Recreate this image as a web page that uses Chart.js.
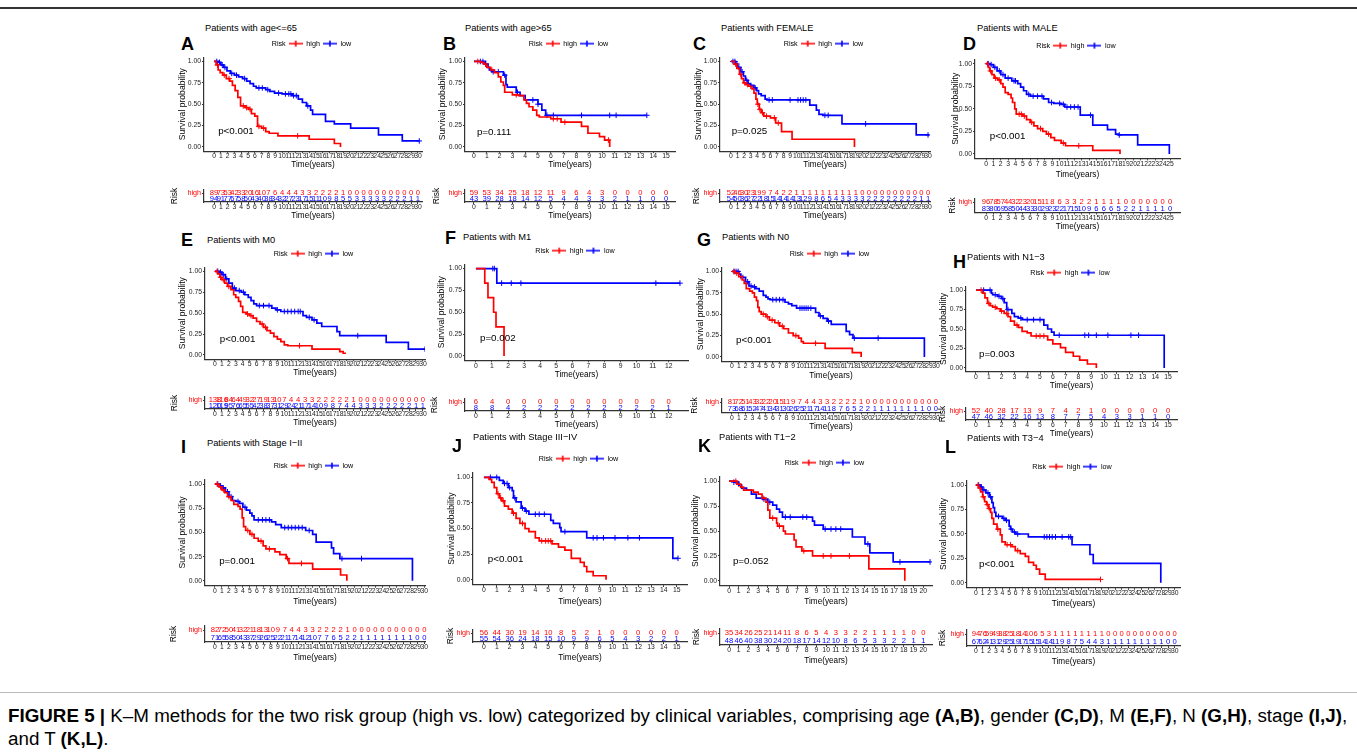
<!DOCTYPE html>
<html>
<head>
<meta charset="utf-8">
<script src="https://cdn.jsdelivr.net/npm/chart.js@4.4.1/dist/chart.umd.min.js"></script>
<style>
  body { margin: 0; background: #fff; font-family: 'Liberation Sans', Arial, sans-serif; }
  #fig { position: relative; width: 1357px; height: 754px; overflow: hidden; }
  #fig canvas { position: absolute; }
  .letter { position: absolute; font-weight: bold; font-size: 18px; line-height: 18px; color: #000; }
  .ptitle { position: absolute; font-size: 9.3px; line-height: 10px; white-space: nowrap; color: #000; }
  #topline { position: absolute; left: 0; top: 7px; width: 1357px; height: 2px; background: #333; }
  #capline { position: absolute; left: 0; top: 692px; width: 1357px; height: 1px; background: #bbb; }
  #caption { position: absolute; left: 8px; top: 704px; width: 1347px; font-size: 18.8px; line-height: 23px; color: #000; }
</style>
</head>
<body>
<div id="fig">
  <div id="topline"></div>
  <div id="capline"></div>
  <div id="caption"><b>FIGURE 5 |</b> K–M methods for the two risk group (high vs. low) categorized by clinical variables, comprising age <b>(A,B)</b>, gender <b>(C,D)</b>, M <b>(E,F)</b>, N <b>(G,H)</b>, stage <b>(I,J)</b>, and T <b>(K,L)</b>.</div>
</div>
<script>
// tick values for the time axes
const ticks30 = [0,1,2,3,4,5,6,7,8,9,10,11,12,13,14,15,16,17,18,19,20,21,22,23,24,25,26,27,28,29,30];
const ticks25 = [0,1,2,3,4,5,6,7,8,9,10,11,12,13,14,15,16,17,18,19,20,21,22,23,24,25];
const ticks20 = [0,1,2,3,4,5,6,7,8,9,10,11,12,13,14,15,16,17,18,19,20];
const ticks15 = [0,1,2,3,4,5,6,7,8,9,10,11,12,13,14,15];
const ticks12 = [0,1,2,3,4,5,6,7,8,9,10,11,12];
const survTicks = [0, 0.25, 0.5, 0.75, 1];

// KM curves: [time, survival] at each step
const kmA_high = [[0,1],[0.3,0.96],[0.6,0.90],[0.9,0.87],[1.3,0.84],[1.8,0.80],[2.3,0.77],[2.7,0.72],[3.1,0.66],[3.5,0.58],[3.9,0.48],[4.6,0.46],[5.1,0.44],[5.5,0.39],[6.0,0.36],[6.4,0.24],[7.0,0.22],[7.6,0.18],[8.1,0.16],[9.4,0.13],[14.0,0.09],[17.7,0.04],[18.6,0]];
const kmA_low = [[0,1],[0.6,0.99],[1.0,0.96],[1.4,0.93],[1.9,0.89],[2.4,0.86],[3.0,0.84],[3.6,0.82],[4.2,0.80],[4.8,0.77],[5.3,0.74],[5.8,0.71],[6.2,0.69],[7.6,0.67],[8.2,0.65],[8.9,0.63],[10.0,0.62],[11.5,0.60],[12.4,0.56],[13.0,0.52],[13.6,0.48],[14.2,0.43],[14.5,0.38],[16.4,0.30],[17.7,0.27],[20.1,0.22],[24.2,0.14],[27.7,0.07],[30.2,0.07]];
const censA_high = [0.5,1.5,2.2,4.3,4.8,5.3,6.6,7.3,12.3];
const censA_low = [0.4,0.8,1.2,1.6,2.6,3.3,4.5,6.6,7.1,7.9,9.5,10.5,11.0,11.3,11.7,12.1,13.8,30.2];

const kmB_high = [[0,1],[0.5,0.99],[0.8,0.97],[1.0,0.93],[1.3,0.90],[1.6,0.87],[1.9,0.82],[2.1,0.76],[2.3,0.72],[2.4,0.64],[3.0,0.61],[3.5,0.60],[3.9,0.55],[4.1,0.51],[4.3,0.47],[4.6,0.43],[4.9,0.37],[5.1,0.35],[6.0,0.33],[6.8,0.29],[8.4,0.24],[8.9,0.16],[9.8,0.12],[10.2,0.08],[10.6,0]];
const kmB_low = [[0,1],[0.9,0.97],[1.1,0.93],[1.2,0.90],[1.4,0.88],[2.3,0.84],[2.5,0.73],[2.6,0.70],[3.3,0.64],[3.6,0.60],[4.0,0.55],[5.0,0.50],[5.3,0.43],[5.6,0.37],[13.5,0.37]];
const censB_high = [0.3,0.9,1.4,3.3,6.2,6.5,7.1,10.5];
const censB_low = [0.5,0.7,0.9,1.5,1.9,2.4,3.4,4.6,5.0,5.7,6.2,8.4,10.6,11.1,13.5];

const kmC_high = [[0,1],[0.5,0.97],[0.9,0.92],[1.3,0.85],[1.6,0.80],[1.9,0.75],[2.3,0.73],[2.7,0.71],[3.2,0.68],[3.5,0.63],[3.8,0.56],[4.0,0.50],[4.3,0.44],[4.6,0.40],[5.0,0.36],[6.0,0.34],[6.8,0.28],[7.7,0.18],[9.3,0.09],[18.8,0]];
const kmC_low = [[0,1],[0.7,0.97],[1.0,0.93],[1.5,0.88],[1.9,0.83],[2.2,0.78],[2.6,0.74],[3.0,0.72],[3.5,0.69],[3.9,0.66],[4.2,0.62],[4.6,0.60],[5.2,0.56],[5.5,0.55],[12.0,0.49],[13.0,0.43],[13.4,0.38],[14.0,0.37],[16.9,0.27],[28.2,0.14],[30.2,0.14]];
const censC_high = [0.7,1.5,2.1,2.5,3.0,4.1,4.4,4.8,5.4,6.6,7.2];
const censC_low = [0.3,0.6,0.9,1.2,1.7,2.4,3.7,5.8,6.3,9.0,10.2,10.6,11.0,11.4,14.3,14.8,20.5,30.0];

const kmD_high = [[0,1],[0.3,0.96],[0.5,0.92],[0.8,0.88],[1.1,0.84],[1.6,0.82],[2.0,0.78],[2.3,0.74],[2.6,0.68],[3.0,0.66],[3.4,0.62],[3.6,0.57],[3.9,0.50],[4.1,0.44],[5.0,0.42],[5.5,0.38],[6.0,0.35],[6.5,0.31],[7.0,0.28],[7.7,0.25],[8.2,0.22],[8.8,0.18],[9.3,0.15],[10.2,0.12],[10.8,0.09],[14.5,0.04],[18.2,0]];
const kmD_low = [[0,1],[0.5,0.99],[1.0,0.96],[1.5,0.92],[2.0,0.88],[2.6,0.84],[3.5,0.81],[4.3,0.78],[4.7,0.74],[5.1,0.70],[5.5,0.66],[6.0,0.64],[7.8,0.61],[8.5,0.57],[9.2,0.56],[10.2,0.55],[10.7,0.52],[12.8,0.43],[14.5,0.32],[16.5,0.27],[17.6,0.22],[18.0,0.21],[20.6,0.10],[24.9,0]];
const censD_high = [0.2,0.6,1.3,1.8,4.5,4.8,5.2,6.2,7.4,8.5,10.5,12.6];
const censD_low = [0.3,0.7,1.2,1.8,2.3,3.0,3.8,4.0,5.8,6.4,7.0,7.6,8.9,10.0,10.5,11.0,11.5,12.0,12.5,14.2,18.1];

const kmE_high = [[0,1],[0.4,0.97],[0.7,0.93],[1.0,0.90],[1.4,0.86],[1.8,0.82],[2.3,0.78],[2.7,0.72],[3.0,0.69],[3.4,0.64],[3.7,0.58],[4.0,0.51],[4.5,0.49],[5.0,0.47],[5.5,0.44],[6.0,0.40],[6.5,0.37],[7.0,0.33],[7.5,0.29],[8.0,0.26],[8.5,0.22],[9.0,0.19],[9.5,0.16],[10.0,0.12],[10.5,0.11],[14.0,0.07],[18.0,0.04],[18.5,0.02],[18.9,0.02]];
const kmE_low = [[0,1],[0.6,0.99],[1.0,0.96],[1.5,0.91],[2.0,0.86],[2.5,0.80],[3.0,0.77],[3.8,0.75],[4.3,0.72],[4.8,0.69],[5.2,0.65],[5.6,0.61],[6.0,0.59],[8.2,0.56],[8.8,0.54],[9.5,0.52],[12.7,0.47],[13.2,0.45],[14.0,0.42],[14.7,0.38],[15.4,0.34],[17.6,0.28],[18.0,0.23],[24.7,0.15],[27.9,0.07],[30.3,0.07]];
const censE_high = [0.3,0.8,1.2,2.0,4.7,5.2,6.8,7.3,12.2];
const censE_low = [0.4,0.8,1.2,1.7,2.8,3.5,4.1,6.4,7.0,7.8,9.0,10.0,10.5,11.0,11.5,12.0,12.3,13.6,14.3,20.6,30.3];

const kmF_high = [[0,1],[0.55,0.833],[0.75,0.667],[1.1,0.5],[1.25,0.333],[1.75,0]];
const kmF_low = [[0,1],[1.3,0.833],[12.7,0.833]];
const censF_high = [];
const censF_low = [1.05,1.15,1.6,2.2,2.8,11.2,12.7];

const kmG_high = [[0,1],[0.5,0.98],[1.0,0.94],[1.5,0.90],[1.8,0.86],[2.1,0.80],[2.6,0.77],[3.0,0.75],[3.3,0.70],[3.6,0.66],[3.8,0.58],[4.0,0.53],[4.3,0.50],[5.0,0.47],[5.5,0.43],[6.3,0.40],[7.0,0.36],[7.6,0.33],[8.3,0.28],[9.0,0.25],[9.8,0.22],[10.2,0.18],[10.5,0.16],[13.7,0.10],[17.7,0.05],[19.0,0]];
const kmG_low = [[0,1],[1.0,0.97],[1.3,0.93],[2.0,0.88],[2.5,0.83],[3.0,0.82],[3.5,0.80],[4.0,0.77],[4.6,0.72],[5.0,0.70],[5.3,0.68],[5.6,0.67],[7.8,0.64],[8.3,0.62],[8.8,0.60],[9.5,0.57],[12.3,0.52],[12.8,0.48],[13.4,0.45],[14.0,0.42],[14.6,0.38],[16.8,0.30],[17.3,0.26],[17.8,0.22],[28.3,0]];
const censG_high = [0.3,0.7,1.3,4.6,5.2,5.9,6.8,7.4,9.4,12.3];
const censG_low = [0.3,0.6,0.9,1.6,2.3,2.8,3.3,6.0,6.5,7.0,7.5,10.0,10.3,10.6,10.9,11.2,11.6,13.0,14.2,18.0,21.5];

const kmH_high = [[0,1],[0.5,0.96],[0.7,0.90],[0.9,0.83],[1.1,0.80],[1.3,0.78],[1.6,0.76],[1.9,0.73],[2.2,0.70],[2.5,0.66],[2.7,0.60],[3.0,0.55],[3.3,0.52],[3.6,0.47],[4.0,0.45],[4.3,0.41],[5.6,0.36],[6.0,0.31],[6.6,0.26],[7.0,0.20],[7.6,0.15],[8.1,0.10],[8.7,0.05],[9.4,0]];
const kmH_low = [[0,1],[1.2,0.96],[1.3,0.94],[1.7,0.92],[2.0,0.89],[2.2,0.84],[2.4,0.75],[2.8,0.70],[3.0,0.66],[3.3,0.64],[3.6,0.62],[5.3,0.55],[5.6,0.50],[5.9,0.46],[6.1,0.42],[14.7,0]];
const censH_high = [0.4,1.0,1.5,2.0,2.4,3.2,4.7,5.0,5.3];
const censH_low = [0.6,1.1,1.5,1.8,2.1,2.5,3.5,4.0,4.5,5.0,6.5,8.5,8.8,9.4,10.3,12.1,12.7];

const kmI_high = [[0,1],[0.6,0.97],[1.0,0.94],[1.4,0.91],[1.8,0.87],[2.3,0.83],[2.7,0.79],[3.3,0.77],[3.6,0.74],[3.9,0.65],[4.1,0.56],[4.4,0.52],[5.0,0.48],[5.6,0.44],[6.2,0.41],[6.9,0.36],[7.3,0.33],[8.6,0.30],[9.3,0.27],[10.2,0.23],[10.6,0.18],[14.0,0.12],[18.0,0.06],[18.9,0]];
const kmI_low = [[0,1],[0.7,0.98],[1.0,0.96],[1.5,0.92],[2.0,0.87],[2.5,0.83],[3.0,0.82],[3.5,0.80],[4.0,0.76],[4.5,0.73],[5.0,0.70],[5.3,0.67],[5.6,0.63],[8.1,0.61],[8.7,0.58],[9.5,0.55],[13.0,0.52],[14.0,0.48],[14.5,0.40],[16.7,0.34],[17.0,0.28],[17.9,0.23],[28.3,0]];
const censI_high = [0.3,0.8,1.2,2.0,4.7,5.3,6.6,7.8,10.4,12.4];
const censI_low = [0.4,0.8,1.2,1.8,2.3,3.3,4.3,6.2,6.8,7.3,7.8,10.0,10.5,11.0,11.5,12.0,12.5,13.5,18.2,21.0];

const kmJ_high = [[0,1],[0.4,0.98],[0.6,0.95],[0.8,0.90],[1.0,0.84],[1.2,0.80],[1.4,0.77],[1.6,0.72],[1.9,0.69],[2.2,0.65],[2.5,0.60],[2.8,0.55],[3.2,0.50],[3.5,0.47],[4.0,0.41],[4.3,0.38],[5.3,0.35],[5.8,0.32],[6.3,0.29],[6.8,0.21],[7.5,0.17],[7.8,0.13],[8.0,0.08],[8.5,0.04],[9.5,0]];
const kmJ_low = [[0,1],[1.2,0.97],[1.5,0.94],[1.9,0.90],[2.2,0.87],[2.3,0.80],[2.5,0.76],[2.9,0.70],[3.2,0.67],[3.5,0.64],[5.2,0.58],[5.4,0.55],[5.9,0.51],[6.0,0.47],[8.0,0.41],[14.7,0.21],[15.1,0.21]];
const censJ_high = [1.1,1.3,1.5,2.3,3.0,4.5,4.8,5.0,5.2];
const censJ_low = [0.5,1.0,1.6,1.8,2.0,2.4,3.0,3.3,4.0,4.3,4.7,6.3,8.5,8.8,9.3,10.2,11.2,12.1,15.1];

const kmK_high = [[0,1],[0.8,0.97],[1.2,0.94],[1.5,0.91],[2.5,0.89],[3.0,0.87],[3.4,0.83],[3.8,0.79],[4.0,0.71],[4.2,0.63],[4.9,0.58],[5.0,0.55],[5.6,0.50],[5.8,0.47],[6.7,0.41],[6.9,0.34],[7.5,0.30],[8.6,0.25],[14.4,0.12],[18.1,0]];
const kmK_low = [[0,1],[0.5,0.99],[1.0,0.96],[1.3,0.93],[1.8,0.91],[2.3,0.87],[2.8,0.83],[3.5,0.82],[4.0,0.79],[4.5,0.76],[4.9,0.72],[5.2,0.69],[5.5,0.64],[8.6,0.60],[8.8,0.56],[9.7,0.52],[12.7,0.44],[14.0,0.37],[14.5,0.28],[16.9,0.19],[20.7,0.19]];
const censK_high = [0.7,1.0,3.5,4.5,5.2,7.7,9.7,10.5,12.4];
const censK_low = [0.5,3.6,4.2,5.8,6.3,7.6,8.0,9.9,10.5,11.0,11.5,14.3,17.6,20.7];

const kmL_high = [[0,1],[0.4,0.97],[0.7,0.93],[1.0,0.88],[1.3,0.83],[1.6,0.80],[1.9,0.76],[2.2,0.72],[2.4,0.66],[2.66,0.60],[3.17,0.55],[3.67,0.49],[3.92,0.42],[4.42,0.39],[5.43,0.37],[5.93,0.33],[6.68,0.30],[7.44,0.27],[7.94,0.21],[8.69,0.18],[9.1,0.14],[9.6,0.09],[10.45,0.035],[18.8,0.035]];
const kmL_low = [[0,1],[0.7,0.98],[1.0,0.95],[1.5,0.92],[2.0,0.88],[2.4,0.82],[2.6,0.77],[2.8,0.72],[3.0,0.68],[4.0,0.66],[4.4,0.64],[5.0,0.58],[5.2,0.55],[5.5,0.52],[6.0,0.50],[7.9,0.47],[14.5,0.39],[17.2,0.29],[17.7,0.20],[27.9,0]];
const censL_high = [0.3,0.6,1.1,1.7,2.0,3.3,4.7,5.2,6.3,18.8];
const censL_low = [0.4,0.8,1.2,1.8,2.2,3.4,4.2,4.6,5.3,5.8,6.3,10.3,10.7,11.1,11.5,12.0,13.0,14.0,14.3];

// numbers at risk, one value per time tick
const riskA_high = [89,73,53,42,33,20,16,10,7,6,4,4,4,3,3,2,2,2,2,1,0,0,0,0,0,0,0,0,0,0,0];
const riskA_low = [94,91,77,67,58,50,43,40,38,34,32,27,23,17,15,11,10,9,8,5,5,3,3,3,3,3,2,2,2,1,1];
const riskB_high = [59,53,34,25,18,12,11,9,6,4,3,0,0,0,0,0];
const riskB_low = [43,39,28,18,14,12,5,4,4,3,3,2,1,1,0,0];
const riskC_high = [52,46,30,23,19,9,7,4,2,2,1,1,1,1,1,1,1,1,1,1,0,0,0,0,0,0,0,0,0,0,0];
const riskC_low = [54,50,36,27,22,18,15,14,14,14,13,12,9,8,6,5,4,3,3,3,3,2,2,2,2,2,2,2,2,1,1];
const riskD_high = [96,78,57,44,32,23,20,15,11,8,6,3,3,2,2,1,1,1,1,0,0,0,0,0,0,0];
const riskD_low = [83,80,69,58,50,44,33,30,29,23,22,17,15,10,9,6,6,6,5,2,2,1,1,1,1,0];
const riskE_high = [138,116,84,64,49,32,27,19,13,10,7,4,4,3,3,2,2,2,2,2,1,0,0,0,0,0,0,0,0,0,0];
const riskE_low = [120,119,95,76,65,55,42,38,37,31,29,24,21,17,14,10,9,8,7,4,4,3,3,3,2,2,2,2,2,1,1];
const riskF_high = [6,4,0,0,0,0,0,0,0,0,0,0,0];
const riskF_low = [8,8,4,2,2,2,2,2,2,2,2,2,1];
const riskG_high = [81,72,51,43,32,22,20,15,11,9,7,4,4,3,3,2,2,2,2,1,0,0,0,0,0,0,0,0,0,0,0];
const riskG_low = [73,68,61,52,47,41,34,31,30,26,25,21,17,14,11,8,7,6,5,2,2,1,1,1,1,1,1,1,1,0,0];
const riskH_high = [52,40,28,17,13,9,7,4,2,1,0,0,0,0,0,0];
const riskH_low = [47,46,32,22,16,13,8,7,7,5,4,3,3,1,1,0];
const riskI_high = [82,72,50,41,32,21,18,13,10,9,7,4,4,3,3,2,2,2,2,1,0,0,0,0,0,0,0,0,0,0,0];
const riskI_low = [71,65,58,50,43,37,29,26,25,22,21,17,14,12,10,7,7,6,5,2,2,1,1,1,1,1,1,1,1,0,0];
const riskJ_high = [56,44,30,19,14,10,8,5,2,1,0,0,0,0,0,0];
const riskJ_low = [55,54,36,24,18,15,10,9,9,6,5,4,3,2,2,1];
const riskK_high = [35,34,26,25,21,14,11,8,6,5,4,3,3,2,2,1,1,1,1,0,0];
const riskK_low = [48,46,40,38,30,24,20,18,17,14,12,10,8,6,5,3,3,2,2,1,1];
const riskL_high = [94,76,59,49,38,25,18,14,10,6,5,3,1,1,1,1,1,1,1,1,0,0,0,0,0,0,0,0,0,0,0];
const riskL_low = [67,62,41,31,29,25,19,17,15,15,14,14,11,9,8,7,5,4,4,3,1,1,1,1,1,1,1,1,1,0,0];

const panelTitles = ['Patients with age<=65','Patients with age>65','Patients with FEMALE','Patients with MALE',
  'Patients with M0','Patients with M1','Patients with N0','Patients with N1\u22123',
  'Patients with Stage I\u2212II','Patients with Stage III\u2212IV','Patients with T1\u22122','Patients with T3\u22124'];
const pValues = ['p<0.001','p=0.111','p=0.025','p<0.001','p<0.001','p=0.002','p<0.001','p=0.003','p=0.001','p<0.001','p=0.052','p<0.001'];

const RED = '#ff0000', BLUE = '#0000ff', AXIS = '#333333';
const FONT = "'Liberation Sans', Arial, sans-serif";

// page layout of each panel (pixels), plus the data window of each x axis
const panels = [
  {L:'A', km:[kmA_high,kmA_low], cens:[censA_high,censA_low], risk:[riskA_high,riskA_low], ticks:ticks30,
   lx:181, ly:44, tx:205, ty:28, legY:44, plotL:204, plotR:422, xMin:-1.48, xMax:30.6, y1:63, y0:147, gap:14, survX:182, riskX:175, rHigh:193, rLow:199, rGap:14, px:0.6, py:0.18},
  {L:'B', km:[kmB_high,kmB_low], cens:[censB_high,censB_low], risk:[riskB_high,riskB_low], ticks:ticks15,
   lx:443, ly:44, tx:465, ty:28, legY:44, plotL:465, plotR:675, xMin:-0.7, xMax:15.7, y1:63, y0:147, gap:14, survX:442, riskX:437, rHigh:193, rLow:199, rGap:14, px:0.23, py:0.17},
  {L:'C', km:[kmC_high,kmC_low], cens:[censC_high,censC_low], risk:[riskC_high,riskC_low], ticks:ticks30,
   lx:693, ly:44, tx:721, ty:28, legY:44, plotL:720, plotR:930, xMin:-1.67, xMax:30.3, y1:63, y0:147, gap:14, survX:698, riskX:697, rHigh:193, rLow:199, rGap:14, px:0.1, py:0.18},
  {L:'D', km:[kmD_high,kmD_low], cens:[censD_high,censD_low], risk:[riskD_high,riskD_low], ticks:ticks25,
   lx:963, ly:44, tx:977, ty:28, legY:46, plotL:975, plotR:1180, xMin:-1.5, xMax:26.35, y1:66, y0:154, gap:16, survX:955, riskX:953, rHigh:202, rLow:209, rGap:14, px:0.5, py:0.19},
  {L:'E', km:[kmE_high,kmE_low], cens:[censE_high,censE_low], risk:[riskE_high,riskE_low], ticks:ticks30,
   lx:181, ly:240, tx:207, ty:240, legY:254, plotL:205, plotR:425, xMin:-1.44, xMax:30.3, y1:273, y0:355, gap:14, survX:182, riskX:175, rHigh:400, rLow:406, rGap:14, px:0.7, py:0.19},
  {L:'F', km:[kmF_high,kmF_low], cens:[censF_high,censF_low], risk:[riskF_high,riskF_low], ticks:ticks12,
   lx:445, ly:238, tx:463, ty:237, legY:251, plotL:465, plotR:688, xMin:-0.68, xMax:13.2, y1:270, y0:356, gap:15, survX:441, riskX:435, rHigh:402, rLow:408, rGap:14, px:0.25, py:0.2},
  {L:'G', km:[kmG_high,kmG_low], cens:[censG_high,censG_low], risk:[riskG_high,riskG_low], ticks:ticks30,
   lx:697, ly:240, tx:722, ty:237, legY:254, plotL:722, plotR:940, xMin:-1.47, xMax:30.6, y1:273, y0:357, gap:15, survX:700, riskX:695, rHigh:402, rLow:409, rGap:14, px:0.6, py:0.2},
  {L:'H', km:[kmH_high,kmH_low], cens:[censH_high,censH_low], risk:[riskH_high,riskH_low], ticks:ticks15,
   lx:953, ly:262, tx:967, ty:257, legY:273, plotL:966, plotR:1177, xMin:-0.78, xMax:15.7, y1:292, y0:368, gap:14, survX:943, riskX:943, rHigh:411, rLow:417, rGap:14, px:0.23, py:0.18},
  {L:'I', km:[kmI_high,kmI_low], cens:[censI_high,censI_low], risk:[riskI_high,riskI_low], ticks:ticks30,
   lx:181, ly:447, tx:207, ty:443, legY:466, plotL:205, plotR:425, xMin:-1.43, xMax:30.1, y1:488, y0:581, gap:16, survX:182, riskX:174, rHigh:630, rLow:638, rGap:16, px:0.6, py:0.2},
  {L:'J', km:[kmJ_high,kmJ_low], cens:[censJ_high,censJ_low], risk:[riskJ_high,riskJ_low], ticks:ticks15,
   lx:452, ly:446, tx:473, ty:437, legY:459, plotL:473, plotR:687, xMin:-0.85, xMax:15.8, y1:481, y0:580, gap:17, survX:451, riskX:451, rHigh:633, rLow:639, rGap:16, px:0.3, py:0.2},
  {L:'K', km:[kmK_high,kmK_low], cens:[censK_high,censK_low], risk:[riskK_high,riskK_low], ticks:ticks20,
   lx:698, ly:446, tx:719, ty:437, legY:463, plotL:720, plotR:932, xMin:-0.93, xMax:20.9, y1:484, y0:581, gap:16, survX:695, riskX:697, rHigh:633, rLow:641, rGap:16, px:0.4, py:0.2},
  {L:'L', km:[kmL_high,kmL_low], cens:[censL_high,censL_low], risk:[riskL_high,riskL_low], ticks:ticks30,
   lx:945, ly:447, tx:967, ty:438, legY:467, plotL:967, plotR:1180, xMin:-1.36, xMax:30.8, y1:488, y0:583, gap:16, survX:943, riskX:943, rHigh:634, rLow:642, rGap:16, px:0.45, py:0.19}
];

const fig = document.getElementById('fig');

function survAt(km, t) {
  let s = 1;
  for (const [x, y] of km) { if (x <= t) s = y; else break; }
  return s;
}

// legend key: short line with a censor cross
function keyIcon(color) {
  const c = document.createElement('canvas');
  c.width = 14; c.height = 8;
  const g = c.getContext('2d');
  if (color) {
    g.strokeStyle = color; g.lineWidth = 1.6;
    g.beginPath(); g.moveTo(0, 4); g.lineTo(14, 4); g.moveTo(7, 1); g.lineTo(7, 7); g.stroke();
  }
  return c;
}
const iconHigh = keyIcon(RED), iconLow = keyIcon(BLUE), iconBlank = keyIcon(null);

const pvalPlugin = {
  id: 'pval',
  afterDatasetsDraw(chart, args, o) {
    const {ctx, scales: {x, y}} = chart;
    ctx.save();
    ctx.font = '9.8px ' + FONT;
    ctx.fillStyle = '#000';
    ctx.textBaseline = 'middle';
    ctx.fillText(o.text, x.getPixelForValue(o.x), y.getPixelForValue(o.y));
    ctx.restore();
  }
};

const riskPlugin = {
  id: 'riskNums',
  afterDatasetsDraw(chart, args, o) {
    const {ctx, scales: {x, y}} = chart;
    ctx.save();
    ctx.font = '7.6px ' + FONT;
    ctx.textAlign = 'center';
    ctx.textBaseline = 'middle';
    o.rows.forEach((vals, r) => {
      ctx.fillStyle = r === 0 ? RED : BLUE;
      vals.forEach((v, i) => ctx.fillText(String(v), x.getPixelForValue(o.times[i]), y.getPixelForValue(r)));
    });
    ctx.restore();
  }
};

function addCanvas(left, top, w, h) {
  const c = document.createElement('canvas');
  c.width = w; c.height = h;
  c.style.left = left + 'px'; c.style.top = top + 'px';
  c.style.width = w + 'px'; c.style.height = h + 'px';
  fig.appendChild(c);
  return c;
}

function xAxis(p, titleGap) {
  return {
    type: 'linear', min: p.xMin, max: p.xMax,
    afterBuildTicks: s => { s.ticks = p.ticks.map(v => ({value: v})); },
    afterFit: s => { s.height = titleGap + 4.8; },
    border: {display: true, color: AXIS, width: 1.2},
    grid: {drawOnChartArea: false, drawTicks: true, tickLength: 2, color: AXIS},
    ticks: {autoSkip: false, maxRotation: 0, padding: 0, color: '#222', font: {size: 6.8, family: FONT, lineHeight: 1}},
    title: {display: true, text: 'Time(years)', color: '#000', font: {size: 8.2, family: FONT}, padding: 0}
  };
}

function kmChart(p, idx) {
  const plotTop = p.y1 - 0.05 * (p.y0 - p.y1);
  const plotBot = p.y0 + 0.05 * (p.y0 - p.y1);
  const cTop = Math.round(p.legY - 8.6);
  const cLeft = Math.round(p.survX - 5.2);
  const xH = p.gap + 4.8;
  const W = Math.ceil(p.plotR + 6 - cLeft);
  const H = Math.ceil(plotBot - cTop + xH + 1);
  const canvas = addCanvas(cLeft, cTop, W, H);
  const [hi, lo] = p.km;
  const toPts = arr => arr.map(([x, y]) => ({x, y}));
  const cens = (times, km) => times.map(t => ({x: t, y: survAt(km, t)}));
  new Chart(canvas, {
    type: 'line',
    data: {
      datasets: [
        {label: 'high', data: toPts(hi), borderColor: RED, borderWidth: 1.7, stepped: 'before', pointRadius: 0, fill: false},
        {label: 'low', data: toPts(lo), borderColor: BLUE, borderWidth: 1.7, stepped: 'before', pointRadius: 0, fill: false},
        {label: 'high+', data: cens(p.cens[0], hi), showLine: false, pointStyle: 'cross', pointRadius: 2.8, borderColor: RED, borderWidth: 1},
        {label: 'low+', data: cens(p.cens[1], lo), showLine: false, pointStyle: 'cross', pointRadius: 2.8, borderColor: BLUE, borderWidth: 1}
      ]
    },
    options: {
      responsive: false, animation: false, devicePixelRatio: 1,
      layout: {padding: {top: 2, left: 0, right: W - (p.plotR - cLeft), bottom: H - (plotBot - cTop) - xH}},
      scales: {
        x: xAxis(p, p.gap),
        y: {
          type: 'linear', min: -0.05, max: 1.05,
          afterBuildTicks: s => { s.ticks = survTicks.map(v => ({value: v})); },
          afterFit: s => { s.width = p.plotL - cLeft; },
          border: {display: true, color: AXIS, width: 1.2},
          grid: {drawOnChartArea: false, drawTicks: true, tickLength: 2, color: AXIS},
          ticks: {padding: 1, color: '#222', font: {size: 6.8, family: FONT}, callback: v => Number(v).toFixed(2)},
          title: {display: true, text: 'Survival probability', color: '#000', font: {size: 8.6, family: FONT}, padding: 0}
        }
      },
      plugins: {
        legend: {
          display: true, position: 'top', fullSize: false, maxHeight: plotTop - cTop - 2,
          labels: {
            usePointStyle: true, pointStyleWidth: 14, padding: 3, color: '#000',
            font: {size: 7.2, family: FONT},
            generateLabels: () => [
              {text: 'Risk', pointStyle: iconBlank, fillStyle: 'transparent', strokeStyle: 'transparent', lineWidth: 0, hidden: false},
              {text: 'high', pointStyle: iconHigh, fillStyle: RED, strokeStyle: RED, lineWidth: 0, hidden: false, datasetIndex: 0},
              {text: 'low', pointStyle: iconLow, fillStyle: BLUE, strokeStyle: BLUE, lineWidth: 0, hidden: false, datasetIndex: 1},
              {text: '', pointStyle: iconBlank, fillStyle: 'transparent', strokeStyle: 'transparent', lineWidth: 0, hidden: false}
            ]
          },
          onClick: () => {}
        },
        tooltip: {enabled: false},
        pval: {text: pValues[idx], x: p.px, y: p.py}
      }
    },
    plugins: [pvalPlugin]
  });
}

function riskChart(p) {
  const rowH = p.rLow - p.rHigh;
  const rTop = p.rHigh - rowH / 2, rBot = p.rLow + rowH / 2;
  const cTop = Math.round(rTop - 8);
  const cLeft = Math.round(p.riskX - 4.8);
  const xH = p.rGap + 4.8;
  const W = Math.ceil(p.plotR + 6 - cLeft);
  const H = Math.ceil(rBot - cTop + xH + 1);
  const canvas = addCanvas(cLeft, cTop, W, H);
  new Chart(canvas, {
    type: 'line',
    data: {datasets: []},
    options: {
      responsive: false, animation: false, devicePixelRatio: 1,
      layout: {padding: {top: rTop - cTop, left: 0, right: W - (p.plotR - cLeft), bottom: H - (rBot - cTop) - xH}},
      scales: {
        x: xAxis(p, p.rGap),
        y: {
          type: 'category', labels: ['high', 'low'], offset: true,
          afterFit: s => { s.width = p.plotL - cLeft; },
          border: {display: true, color: AXIS, width: 1.2},
          grid: {drawOnChartArea: false, drawTicks: true, tickLength: 2, color: AXIS},
          ticks: {padding: 1, font: {size: 7.2, family: FONT}, color: c => c.index === 0 ? RED : BLUE},
          title: {display: true, text: 'Risk', color: '#000', font: {size: 8.4, family: FONT}, padding: 0}
        }
      },
      plugins: {
        legend: {display: false},
        tooltip: {enabled: false},
        riskNums: {rows: p.risk, times: p.ticks}
      }
    },
    plugins: [riskPlugin]
  });
}

panels.forEach((p, i) => {
  const letter = document.createElement('div');
  letter.className = 'letter';
  letter.textContent = p.L;
  letter.style.left = p.lx + 'px'; letter.style.top = (p.ly - 9) + 'px';
  fig.appendChild(letter);
  const title = document.createElement('div');
  title.className = 'ptitle';
  title.textContent = panelTitles[i];
  title.style.left = p.tx + 'px'; title.style.top = (p.ty - 5) + 'px';
  fig.appendChild(title);
  kmChart(p, i);
  riskChart(p);
});
</script>
</body>
</html>
